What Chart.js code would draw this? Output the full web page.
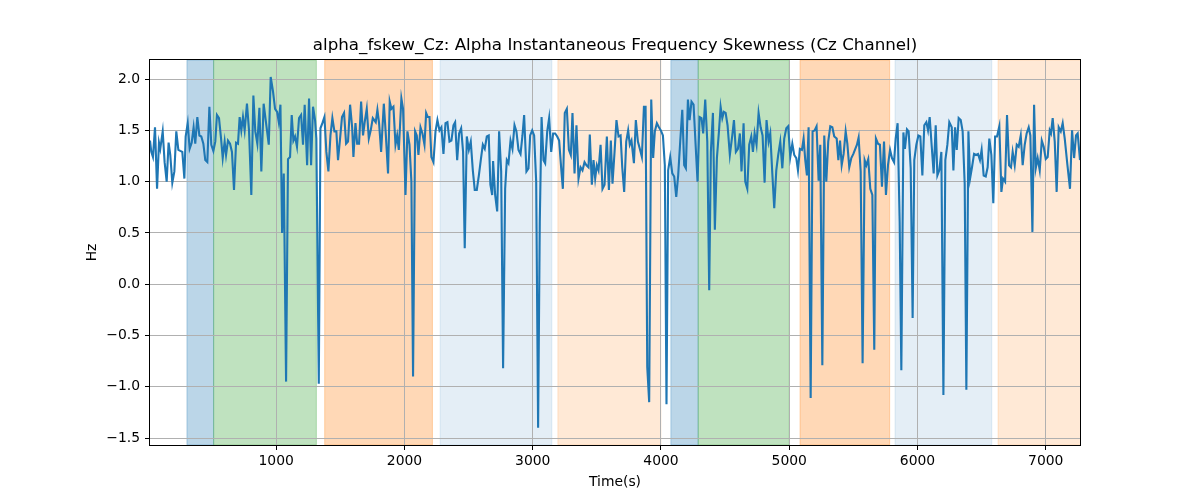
<!DOCTYPE html>
<html>
<head>
<meta charset="utf-8">
<script src="https://cdn.jsdelivr.net/npm/chart.js@4.4.1/dist/chart.umd.min.js"></script>
<style>
  html, body { margin: 0; padding: 0; background: #fff; }
  canvas { display: block; }
</style>
</head>
<body>
<canvas id="chart" width="1200" height="500"></canvas>
<script>
// time (s) of each sample
const timeSec = [
  16, 26, 39, 55, 71, 86, 96, 115, 130, 146, 161, 174, 190, 206, 221, 237, 252, 268, 284, 294,
  310, 325, 341, 356, 369, 385, 401, 416, 432, 447, 463, 479, 494, 510, 525, 538, 554, 570, 583, 598,
  609, 624, 640, 655, 671, 687, 702, 715, 728, 741, 754, 772, 788, 806, 822, 837, 853, 869, 884, 902,
  942, 957, 975, 991, 1007, 1020, 1033, 1046, 1059, 1077, 1092, 1108, 1121, 1134, 1147, 1162, 1178, 1194, 1209, 1222,
  1241, 1256, 1272, 1287, 1303, 1313, 1332, 1345, 1360, 1376, 1391, 1407, 1423, 1438, 1454, 1469, 1482, 1498, 1513, 1529,
  1545, 1560, 1576, 1592, 1602, 1618, 1631, 1646, 1662, 1677, 1690, 1706, 1722, 1737, 1753,
  1776, 1789, 1802, 1818, 1839, 1854, 1872, 1885, 1898, 1914, 1930, 1943, 1956, 1976, 1989, 2008, 2023, 2039, 2054, 2067,
  2083, 2096, 2109, 2125, 2140, 2156, 2169, 2182, 2195, 2210, 2226, 2242, 2257, 2273, 2288, 2304, 2320, 2335, 2351, 2366,
  2382, 2395, 2411, 2426, 2442, 2457, 2470, 2486, 2502, 2517, 2533, 2548, 2564, 2580, 2595, 2611, 2626, 2642, 2657, 2670, 2684,
  2691, 2707, 2723, 2738, 2754, 2769, 2785, 2798, 2811, 2827, 2842, 2858, 2873, 2889, 2905, 2920, 2933, 2951, 2967, 2980,
  2996, 3011, 3027, 3042, 3055, 3069, 3084, 3097, 3113, 3128, 3144, 3159, 3175, 3191, 3206, 3222, 3235, 3250, 3266, 3282,
  3297, 3310, 3326, 3341, 3357, 3373, 3388, 3404, 3419, 3435, 3445, 3461, 3474, 3487, 3500, 3513, 3529, 3544, 3560,
  3578, 3594, 3609, 3622, 3638, 3653, 3669, 3685, 3698, 3713, 3729, 3744, 3757, 3770, 3789, 3804, 3820, 3835, 3851, 3867,
  3880, 3893, 3908, 3924, 3939, 3952, 3968, 3984, 3999, 4015, 4030, 4043, 4056, 4072, 4088, 4103, 4119, 4134, 4150, 4166,
  4181, 4194, 4210, 4223, 4238, 4254, 4270, 4285, 4301, 4316, 4329, 4345, 4361, 4376, 4389, 4405, 4420, 4436, 4452,
  4465, 4478, 4490, 4504, 4519, 4537, 4556, 4569, 4584, 4600, 4615, 4628, 4644, 4657, 4673, 4688, 4704, 4717, 4730, 4745,
  4761, 4777, 4792, 4808, 4823, 4839, 4852, 4868, 4883, 4899, 4914, 4930, 4946, 4961, 4977, 4992, 5008, 5024, 5039, 5055,
  5068, 5083, 5099, 5112, 5125, 5138, 5151, 5167, 5182, 5198, 5213, 5229, 5242, 5258, 5273, 5289, 5304, 5320, 5336, 5351,
  5370, 5383, 5396, 5409, 5424, 5440, 5453, 5468, 5484, 5500, 5515, 5528, 5541, 5557, 5572, 5588, 5601, 5616, 5632, 5648,
  5663, 5676, 5692, 5707, 5723, 5739, 5754, 5770, 5786, 5801, 5817, 5830, 5845, 5861, 5874, 5890, 5902, 5918, 5931, 5947,
  5962, 5975, 5991, 6007, 6022, 6038, 6053, 6069, 6082, 6095, 6110, 6126, 6142, 6155, 6170, 6186, 6202, 6217, 6233, 6248,
  6267, 6280, 6293, 6306, 6321, 6337, 6352, 6368, 6381, 6397, 6410, 6425, 6441, 6456, 6472, 6487, 6500, 6516, 6532, 6547,
  6560, 6576, 6591, 6605, 6620, 6638, 6654, 6667, 6683, 6698, 6714, 6729, 6742, 6758, 6774, 6789, 6805, 6820, 6836, 6851,
  6867, 6880, 6896, 6909, 6922, 6937, 6953, 6969, 6984, 7000, 7015, 7031, 7041, 7054, 7070, 7085, 7101, 7117, 7132, 7148,
  7169, 7189, 7205, 7221, 7236, 7249, 7267
];

// alpha frequency skewness (Hz) at each sample
const skewHz = [
  1.40, 1.29, 1.24, 1.53, 0.93, 1.38, 1.32, 1.49, 1.19, 1.00, 1.38, 1.26, 0.99, 1.10, 1.49, 1.31, 1.30, 1.29, 1.03, 1.44,
  1.57, 1.32, 1.38, 1.53, 1.37, 1.63, 1.45, 1.44, 1.37, 1.21, 1.19, 1.73, 1.36, 1.30, 1.39, 1.65, 1.62, 1.42, 1.23, 1.39,
  1.26, 1.40, 1.37, 1.29, 0.92, 1.38, 1.37, 1.63, 1.50, 1.63, 1.50, 1.76, 1.50, 0.87, 1.84, 1.49, 1.37, 1.72, 1.10, 1.76,
  1.36, 2.02, 1.88, 1.71, 1.68, 1.58, 1.75, 0.50, 1.08, -0.95, 1.22, 1.24, 1.65, 1.40, 1.44, 1.34, 1.62, 1.65, 1.36, 1.75,
  1.16, 1.81, 1.16, 1.73, 1.60, 1.42, -0.97, 1.52, 1.57, 1.63, 1.29, 1.10, 1.45, 1.62, 1.49, 1.49, 1.21, 1.42, 1.63, 1.67,
  1.37, 1.39, 1.75, 1.53, 1.24, 1.57, 1.37, 1.37, 1.78, 1.45, 1.58, 1.71, 1.42, 1.50, 1.62,
  1.58, 1.70, 1.57, 1.29, 1.76, 1.47, 1.08, 1.78, 1.71, 1.73, 1.36, 1.45, 1.31, 1.81, 1.71, 0.87, 1.49, 1.36, 1.00, -0.90,
  1.49, 1.45, 1.26, 1.53, 1.47, 1.36, 1.67, 1.63, 1.63, 1.24, 1.19, 1.49, 1.60, 1.50, 1.53, 1.27, 1.57, 1.58, 1.39, 1.40,
  1.55, 1.58, 1.21, 1.47, 1.52, 1.29, 0.35, 1.44, 1.31, 1.39, 1.11, 0.92, 0.92, 1.06, 1.21, 1.36, 1.32, 1.44, 1.45, 0.97, 0.87,
  1.20, 0.87, 0.71, 1.49, 1.10, -0.82, 0.93, 1.21, 1.18, 1.40, 1.32, 1.55, 1.49, 1.31, 1.27, 1.45, 1.65, 1.10, 1.13, 1.45,
  1.50, 1.45, 1.00, -1.40, 0.61, 1.63, 1.21, 1.18, 1.49, 1.62, 1.29, 1.47, 1.47, 1.44, 1.40, 1.13, 0.93, 1.67, 1.71, 1.31,
  1.26, 1.67, 1.08, 1.55, 1.03, 1.14, 1.11, 1.19, 1.16, 1.14, 1.46, 0.97, 1.21, 1.03, 1.16, 1.11, 1.36, 0.93, 0.97,
  1.44, 0.92, 1.40, 0.98, 1.29, 1.60, 1.44, 1.45, 1.14, 0.90, 1.39, 1.50, 1.36, 1.40, 1.18, 1.60, 1.39, 1.32, 1.24, 1.73,
  1.73, -0.81, -1.15, 1.80, 1.23, 1.49, 1.57, 1.53, 1.50, 1.45, 1.16, -1.17, 1.11, 1.24, 1.08, 1.05, 0.85, 1.06, 1.39, 1.70,
  1.16, 1.13, 1.80, 1.60, 1.78, 1.75, 1.36, 1.00, 1.63, 1.62, 1.47, 1.80, 1.39, -0.06, 1.29, 1.67, 0.53, 1.23, 1.49,
  1.73, 1.62, 1.68, 1.67, 1.55, 1.26, 1.45, 1.60, 1.29, 1.32, 1.47, 1.10, 1.57, 1.00, 0.93, 1.36, 1.44, 1.29, 1.47, 1.36,
  1.67, 1.53, 1.45, 0.99, 1.60, 1.39, 1.47, 1.08, 0.74, 1.11, 1.26, 1.39, 1.13, 1.42, 1.52, 1.54, 1.24, 1.37, 1.26, 1.23,
  1.11, 1.32, 1.31, 1.42, 1.21, 1.06, 1.53, -1.11, 1.49, 1.50, 1.54, 1.01, 1.36, -0.79, 1.45, 1.00, 1.39, 1.54, 1.53, 1.44,
  1.42, 1.21, 1.40, 1.16, 1.27, 1.49, 1.37, 1.14, 1.23, 1.27, 1.32, 1.36, 1.43, 1.10, -0.77, 1.21, 1.16, 1.22, 0.93, 0.87,
  -0.64, 1.42, 1.37, 1.36, 0.95, 1.39, 0.87, 1.16, 1.31, 1.23, 1.19, 1.42, 1.57, 0.61, -0.84, 1.48, 1.32, 1.51, 1.49, 1.13,
  -0.33, 1.21, 1.36, 1.45, 1.44, 1.06, 1.55, 1.58, 1.50, 1.63, 1.36, 1.08, 1.55, 1.06, 1.11, 1.29, -1.08, 1.21, 1.36, 1.58,
  1.53, 1.11, 1.53, 1.31, 1.62, 1.60, 1.49, 0.98, -1.03, 1.49, 1.03, 1.14, 1.27, 1.26, 1.27, 1.21, 1.31, 1.06, 1.05, 1.14,
  1.42, 1.26, 0.79, 1.44, 1.44, 1.54, 0.90, 1.03, 1.00, 1.65, 1.16, 1.14, 1.29, 1.16, 1.36, 1.34, 1.45, 1.16, 1.36, 1.47,
  1.53, 1.45, 0.51, 1.75, 1.13, 1.23, 1.11, 1.40, 1.34, 1.22, 1.24, 1.50, 1.47, 1.62, 1.39, 0.90, 1.53, 1.49, 1.57, 1.42,
  1.16, 0.93, 1.50, 1.23, 1.45, 1.47, 1.21
];

// shaded stages
const spanStart = [304, 512, 1378, 2278, 3196, 4077, 4290, 5084, 5825, 6628];
const spanEnd   = [512, 1313, 2218, 3149, 3999, 4290, 5000, 5783, 6579, 7300];
const spanKind  = ['blue', 'green', 'orange', 'paleBlue', 'paleOrange', 'blue', 'green', 'orange', 'paleBlue', 'paleOrange'];

const xTicks = [1000, 2000, 3000, 4000, 5000, 6000, 7000];
const yTicks = [-1.5, -1.0, -0.5, 0.0, 0.5, 1.0, 1.5, 2.0];

const titleText = 'alpha_fskew_Cz: Alpha Instantaneous Frequency Skewness (Cz Channel)';

const spanFill = {
  blue: 'rgba(31,119,180,0.3)',
  green: 'rgba(44,160,44,0.3)',
  orange: 'rgba(255,127,14,0.3)',
  paleBlue: 'rgba(31,119,180,0.12)',
  paleOrange: 'rgba(255,127,14,0.17)'
};

const font = {family: '"DejaVu Sans", sans-serif', size: 13.9};

const backdrop = {
  id: 'backdrop',
  beforeDraw(chart) {
    const {ctx, chartArea: a, scales: {x}} = chart;
    ctx.save();
    ctx.beginPath();
    ctx.rect(a.left, a.top, a.width, a.height);
    ctx.clip();
    spanStart.forEach((s, i) => {
      const x0 = x.getPixelForValue(s);
      const x1 = x.getPixelForValue(spanEnd[i]);
      ctx.fillStyle = spanFill[spanKind[i]];
      ctx.strokeStyle = spanFill[spanKind[i]];
      ctx.lineWidth = 1;
      ctx.fillRect(x0, a.top, x1 - x0, a.height);
      ctx.strokeRect(x0, a.top, x1 - x0, a.height);
    });
    ctx.restore();
  },
  afterDraw(chart) {
    const {ctx, chartArea: a} = chart;
    ctx.save();
    ctx.strokeStyle = '#000';
    ctx.lineWidth = 1;
    ctx.strokeRect(a.left - 0.5, a.top - 0.5, a.width + 1, a.height + 1);
    ctx.fillStyle = '#000';
    ctx.font = '16.7px "DejaVu Sans", sans-serif';
    ctx.textAlign = 'center';
    ctx.textBaseline = 'middle';
    ctx.fillText(titleText, (a.left + a.right) / 2, 46);
    ctx.restore();
  }
};

new Chart(document.getElementById('chart'), {
  type: 'line',
  data: {
    datasets: [{
      data: timeSec.map((t, i) => ({x: t, y: skewHz[i]})),
      borderColor: '#1f77b4',
      borderWidth: 2.1,
      pointRadius: 0,
      tension: 0,
      fill: false
    }]
  },
  options: {
    responsive: false,
    animation: false,
    devicePixelRatio: 1,
    layout: {padding: {top: 60, right: 120, left: 0, bottom: 0}},
    plugins: {legend: {display: false}, tooltip: {enabled: false}},
    scales: {
      x: {
        type: 'linear',
        min: 16,
        max: 7267,
        afterBuildTicks: s => { s.ticks = xTicks.map(v => ({value: v})); },
        afterFit: s => { s.height = 55; },
        grid: {color: '#b0b0b0', lineWidth: 1, tickColor: '#000', tickLength: 5, tickWidth: 1},
        border: {display: false},
        ticks: {color: '#000', font: font, padding: 3, maxRotation: 0, autoSkip: false, callback: v => String(v)},
        title: {display: true, text: 'Time(s)', color: '#000', font: font, padding: {top: 0, bottom: 9}}
      },
      y: {
        min: -1.568,
        max: 2.186,
        afterBuildTicks: s => { s.ticks = yTicks.map(v => ({value: v})); },
        afterFit: s => { s.width = 150; },
        grid: {color: '#b0b0b0', lineWidth: 1, tickColor: '#000', tickLength: 5, tickWidth: 1},
        border: {display: false},
        ticks: {color: '#000', font: font, padding: 5, callback: v => v.toFixed(1).replace('-', '\u2212')},
        title: {display: true, text: 'Hz', color: '#000', font: font, padding: {top: 84, bottom: 0}}
      }
    }
  },
  plugins: [backdrop]
});
</script>
</body>
</html>
